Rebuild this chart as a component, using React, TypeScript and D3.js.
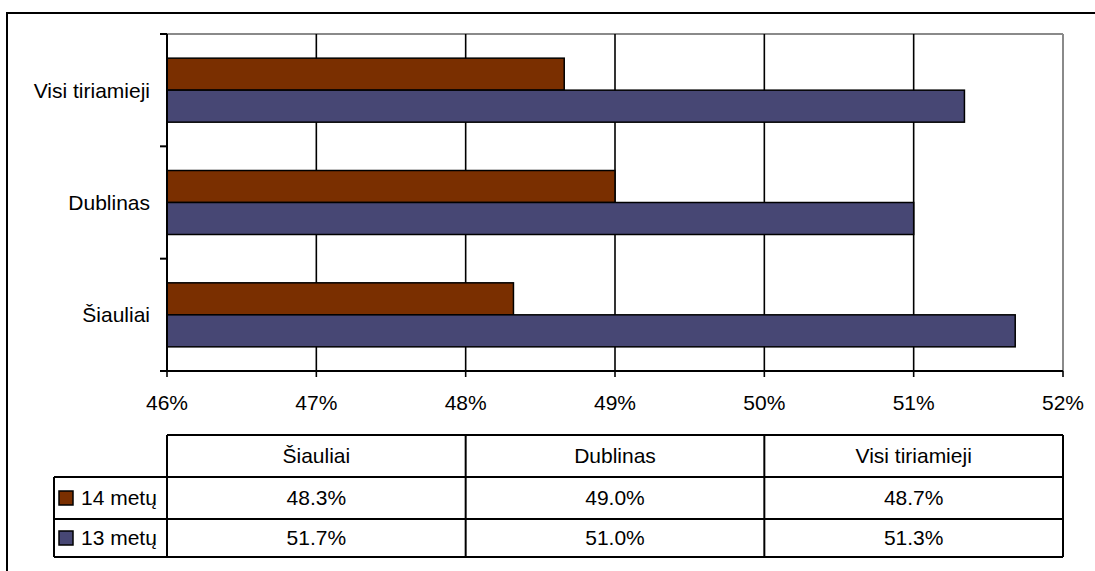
import React from 'react';
import * as d3 from 'd3';

// categories as they appear on the y axis, top to bottom
const categories = ['Visi tiriamieji', 'Dublinas', 'Šiauliai'];
// order of the data table columns
const tableCategories = ['Šiauliai', 'Dublinas', 'Visi tiriamieji'];
const seriesNames = ['14 metų', '13 metų'];
const seriesColors = ['#7a2f00', '#474774'];
const values14 = [48.66, 49.0, 48.32];
const values13 = [51.34, 51.0, 51.68];
const xTicks = [46, 47, 48, 49, 50, 51, 52];

const W = 1095;
const H = 571;
const FONT = '"Liberation Sans", Arial, sans-serif';
const FS = 21;

const App: React.FC = () => {
  const plot = { left: 167, right: 1063, top: 34, bottom: 371 };

  const x = d3.scaleLinear().domain([46, 52]).range([plot.left, plot.right]);
  const y0 = d3.scaleBand<string>().domain(categories).range([plot.top, plot.bottom]).padding(0);
  const y1 = d3
    .scaleBand<string>()
    .domain(seriesNames)
    .range([0, y0.bandwidth()])
    .paddingInner(0)
    .paddingOuter(0.755);

  const series = [values14, values13];
  const byCat = (vals: number[], cat: string) => vals[categories.indexOf(cat)];
  const pct = d3.format('.1f');

  const tx = d3.scaleBand<string>().domain(tableCategories).range([plot.left, plot.right]);
  const table = { top: 435, header: 477, row2: 519, bottom: 557, legendLeft: 54 };
  const rowMid = [(table.header + table.row2) / 2, (table.row2 + table.bottom) / 2];

  return (
    <svg
      width={W}
      height={H}
      style={{ position: 'absolute', left: 0, top: 0, background: '#fff' }}
      fontFamily={FONT}
    >
      <rect x={0} y={0} width={W} height={H} fill="#fff" />
      {/* chart area border (runs off the image to the right and bottom) */}
      <rect x={7} y={13} width={W + 20} height={H + 20} fill="none" stroke="#000" strokeWidth={2} />

      {/* plot area frame */}
      <line x1={plot.left} x2={plot.right} y1={plot.top} y2={plot.top} stroke="#8a8a8a" strokeWidth={2} />
      <line x1={plot.right} x2={plot.right} y1={plot.top} y2={plot.bottom} stroke="#8a8a8a" strokeWidth={2} />

      {/* gridlines */}
      {xTicks.slice(1, -1).map(t => (
        <line key={t} x1={x(t)} x2={x(t)} y1={plot.top} y2={plot.bottom} stroke="#000" strokeWidth={1.6} />
      ))}

      {/* bars */}
      {categories.map(cat => (
        <g key={cat} transform={`translate(0,${y0(cat)})`}>
          {seriesNames.map((s, i) => (
            <rect
              key={s}
              x={x(46)}
              y={y1(s)}
              width={x(byCat(series[i], cat)) - x(46)}
              height={y1.bandwidth()}
              fill={seriesColors[i]}
              stroke="#000"
              strokeWidth={1.5}
            />
          ))}
        </g>
      ))}

      {/* y axis */}
      <line x1={plot.left} x2={plot.left} y1={plot.top} y2={plot.bottom} stroke="#000" strokeWidth={2} />
      {[...categories.map(c => y0(c) as number), plot.bottom].map((yy, i) => (
        <line key={i} x1={plot.left - 7} x2={plot.left} y1={yy} y2={yy} stroke="#000" strokeWidth={2} />
      ))}
      {categories.map(cat => (
        <text
          key={cat}
          x={150}
          y={(y0(cat) as number) + y0.bandwidth() / 2}
          dy="0.35em"
          textAnchor="end"
          fontSize={FS}
          fill="#000"
        >
          {cat}
        </text>
      ))}

      {/* x axis */}
      <line x1={plot.left} x2={plot.right} y1={plot.bottom} y2={plot.bottom} stroke="#000" strokeWidth={2} />
      {xTicks.map(t => (
        <g key={t}>
          <line x1={x(t)} x2={x(t)} y1={plot.bottom} y2={plot.bottom + 6} stroke="#000" strokeWidth={1.6} />
          <text x={x(t)} y={410} textAnchor="middle" fontSize={FS} fill="#000">
            {`${t}%`}
          </text>
        </g>
      ))}

      {/* data table */}
      <g stroke="#000" strokeWidth={2}>
        <line x1={plot.left} x2={plot.right} y1={table.top} y2={table.top} />
        <line x1={table.legendLeft} x2={plot.right} y1={table.header} y2={table.header} />
        <line x1={table.legendLeft} x2={plot.right} y1={table.row2} y2={table.row2} />
        <line x1={table.legendLeft} x2={plot.right} y1={table.bottom} y2={table.bottom} />
        <line x1={table.legendLeft} x2={table.legendLeft} y1={table.header} y2={table.bottom} />
        {tableCategories.map(c => (
          <line key={c} x1={tx(c)} x2={tx(c)} y1={table.top} y2={table.bottom} />
        ))}
        <line x1={plot.right} x2={plot.right} y1={table.top} y2={table.bottom} />
      </g>
      {tableCategories.map(c => (
        <text
          key={c}
          x={(tx(c) as number) + tx.bandwidth() / 2}
          y={(table.top + table.header) / 2}
          dy="0.35em"
          textAnchor="middle"
          fontSize={FS}
          fill="#000"
        >
          {c}
        </text>
      ))}
      {seriesNames.map((s, i) => (
        <g key={s}>
          <rect
            x={59}
            y={rowMid[i] - 7}
            width={14}
            height={14}
            fill={seriesColors[i]}
            stroke="#000"
            strokeWidth={1.5}
          />
          <text x={81} y={rowMid[i]} dy="0.35em" fontSize={FS} fill="#000">
            {s}
          </text>
          {tableCategories.map(c => (
            <text
              key={c}
              x={(tx(c) as number) + tx.bandwidth() / 2}
              y={rowMid[i]}
              dy="0.35em"
              textAnchor="middle"
              fontSize={FS}
              fill="#000"
            >
              {`${pct(byCat(series[i], c))}%`}
            </text>
          ))}
        </g>
      ))}
    </svg>
  );
};

export default App;
